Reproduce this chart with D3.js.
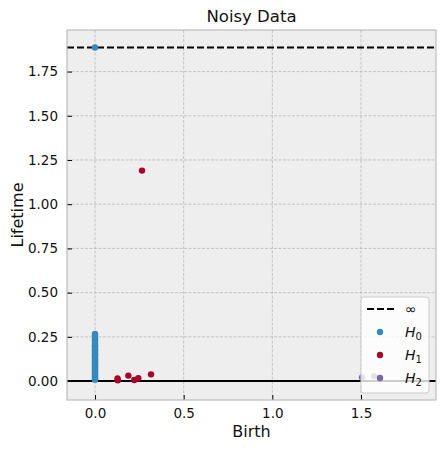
<!DOCTYPE html>
<html>
<head>
<meta charset="utf-8">
<script src="https://cdn.jsdelivr.net/npm/d3@7"></script>
<style>
  body { margin: 0; background: #fff; }
  text { font-family: "DejaVu Sans", sans-serif; fill: #111; }
</style>
</head>
<body>
<div id="chart"></div>
<script>
// persistence diagram values
var infLevel = 1.886;
var h0Deaths = [0.266, 0.259, 0.247, 0.236, 0.229, 0.221, 0.212, 0.203, 0.197, 0.188, 0.181,
                0.174, 0.166, 0.159, 0.151, 0.146, 0.139, 0.131, 0.125, 0.118, 0.111, 0.106,
                0.099, 0.093, 0.087, 0.08, 0.074, 0.069, 0.061, 0.055, 0.049, 0.043, 0.037,
                0.031, 0.026, 0.019, 0.013, 0.008];
var h0InfBirths = [0.0];
var h1Births = [0.127, 0.128, 0.188, 0.221, 0.244, 0.316, 0.265];
var h1Deaths = [0.015, 0.005, 0.031, 0.006, 0.016, 0.038, 1.19];
var h2Births = [1.506, 1.574];
var h2Deaths = [0.021, 0.028];
var xTicks = [0.0, 0.5, 1.0, 1.5];
var yTicks = [0.0, 0.25, 0.5, 0.75, 1.0, 1.25, 1.5, 1.75];

var colors = {h0: "#348ABD", h1: "#A60628", h2: "#7A68A6"};

var W = 446, H = 449;
var margin = {top: 30, right: 10, bottom: 49, left: 67};
var width = W - margin.left - margin.right, height = H - margin.top - margin.bottom;

var svg = d3.select("#chart").append("svg")
    .attr("width", W).attr("height", H);

var g = svg.append("g")
    .attr("transform", "translate(" + margin.left + "," + margin.top + ")");

var x = d3.scaleLinear().domain([-0.158, 1.923]).range([0, width]);
var y = d3.scaleLinear().domain([-0.107, 1.985]).range([height, 0]);

g.append("rect").attr("width", width).attr("height", height).attr("fill", "#eeeeee");

// grid
g.selectAll(".gx").data(xTicks).enter().append("line")
  .attr("x1", function(d){ return x(d); }).attr("x2", function(d){ return x(d); })
  .attr("y1", 0).attr("y2", height)
  .attr("stroke", "#b2b2b2").attr("stroke-width", 0.7).attr("stroke-dasharray", "3,1.5");
g.selectAll(".gy").data(yTicks).enter().append("line")
  .attr("y1", function(d){ return y(d); }).attr("y2", function(d){ return y(d); })
  .attr("x1", 0).attr("x2", width)
  .attr("stroke", "#b2b2b2").attr("stroke-width", 0.7).attr("stroke-dasharray", "3,1.5");

// axes, ticks pointing inward
var xAxis = g.append("g").attr("transform", "translate(0," + height + ")")
  .call(d3.axisBottom(x).tickValues(xTicks).tickFormat(d3.format(".1f")).tickSizeInner(-5).tickSizeOuter(0).tickPadding(8));
var yAxis = g.append("g")
  .call(d3.axisLeft(y).tickValues(yTicks).tickFormat(d3.format(".2f")).tickSizeInner(-5).tickSizeOuter(0).tickPadding(9));
[xAxis, yAxis].forEach(function(a){
  a.select(".domain").remove();
  a.selectAll("line").attr("stroke", "#000");
  a.selectAll("text").attr("font-size", 13.5).attr("font-family", "DejaVu Sans").attr("fill", "#111");
});

// zero line and infinity line
g.append("line").attr("x1", 0).attr("x2", width).attr("y1", y(0)).attr("y2", y(0))
  .attr("stroke", "#000").attr("stroke-width", 2);
g.append("line").attr("x1", 0).attr("x2", width).attr("y1", y(infLevel)).attr("y2", y(infLevel))
  .attr("stroke", "#000").attr("stroke-width", 2).attr("stroke-dasharray", "7,3");

// points
var r = 3.2;
g.append("g").selectAll("circle").data(h0Deaths).enter().append("circle")
  .attr("cx", x(0)).attr("cy", function(d){ return y(d); }).attr("r", r).attr("fill", colors.h0);
g.append("g").selectAll("circle").data(h0InfBirths).enter().append("circle")
  .attr("cx", function(d){ return x(d); }).attr("cy", y(infLevel)).attr("r", r).attr("fill", colors.h0);
g.append("g").selectAll("circle").data(h1Births).enter().append("circle")
  .attr("cx", function(d){ return x(d); }).attr("cy", function(d, i){ return y(h1Deaths[i]); })
  .attr("r", r).attr("fill", colors.h1);
g.append("g").selectAll("circle").data(h2Births).enter().append("circle")
  .attr("cx", function(d){ return x(d); }).attr("cy", function(d, i){ return y(h2Deaths[i]); })
  .attr("r", r).attr("fill", colors.h2);

// frame
g.append("rect").attr("width", width).attr("height", height)
  .attr("fill", "none").attr("stroke", "#bcbcbc").attr("stroke-width", 1.2);

// legend
var lg = g.append("g").attr("transform", "translate(" + (width - 75) + "," + (height - 103) + ")");
lg.append("rect").attr("width", 68).attr("height", 96).attr("rx", 3)
  .attr("fill", "#fff").attr("fill-opacity", 0.8)
  .attr("stroke", "#cccccc").attr("stroke-width", 1);
var entries = [
  {type: "line", label: "∞"},
  {type: "dot", color: colors.h0, sub: "0"},
  {type: "dot", color: colors.h1, sub: "1"},
  {type: "dot", color: colors.h2, sub: "2"}
];
entries.forEach(function(e, i){
  var yy = 12 + i * 23;
  if (e.type === "line") {
    lg.append("line").attr("x1", 6).attr("x2", 33).attr("y1", yy).attr("y2", yy)
      .attr("stroke", "#000").attr("stroke-width", 2).attr("stroke-dasharray", "7,3");
    lg.append("text").attr("x", 44).attr("y", yy).attr("dy", "0.35em")
      .attr("font-size", 14).text(e.label);
  } else {
    lg.append("circle").attr("cx", 19).attr("cy", yy).attr("r", r).attr("fill", e.color);
    var t = lg.append("text").attr("x", 44).attr("y", yy).attr("dy", "0.35em").attr("font-size", 14);
    t.append("tspan").attr("font-style", "italic").text("H");
    t.append("tspan").attr("font-size", 10).attr("dy", "0.3em").text(e.sub);
  }
});

// labels
svg.append("text").attr("x", margin.left + width / 2).attr("y", 22)
  .attr("text-anchor", "middle").attr("font-size", 16.5).text("Noisy Data");
svg.append("text").attr("x", margin.left + width / 2).attr("y", 437)
  .attr("text-anchor", "middle").attr("font-size", 16).text("Birth");
svg.append("text").attr("transform", "translate(23," + (margin.top + height / 2) + ") rotate(-90)")
  .attr("text-anchor", "middle").attr("font-size", 16).text("Lifetime");
</script>
</body>
</html>
